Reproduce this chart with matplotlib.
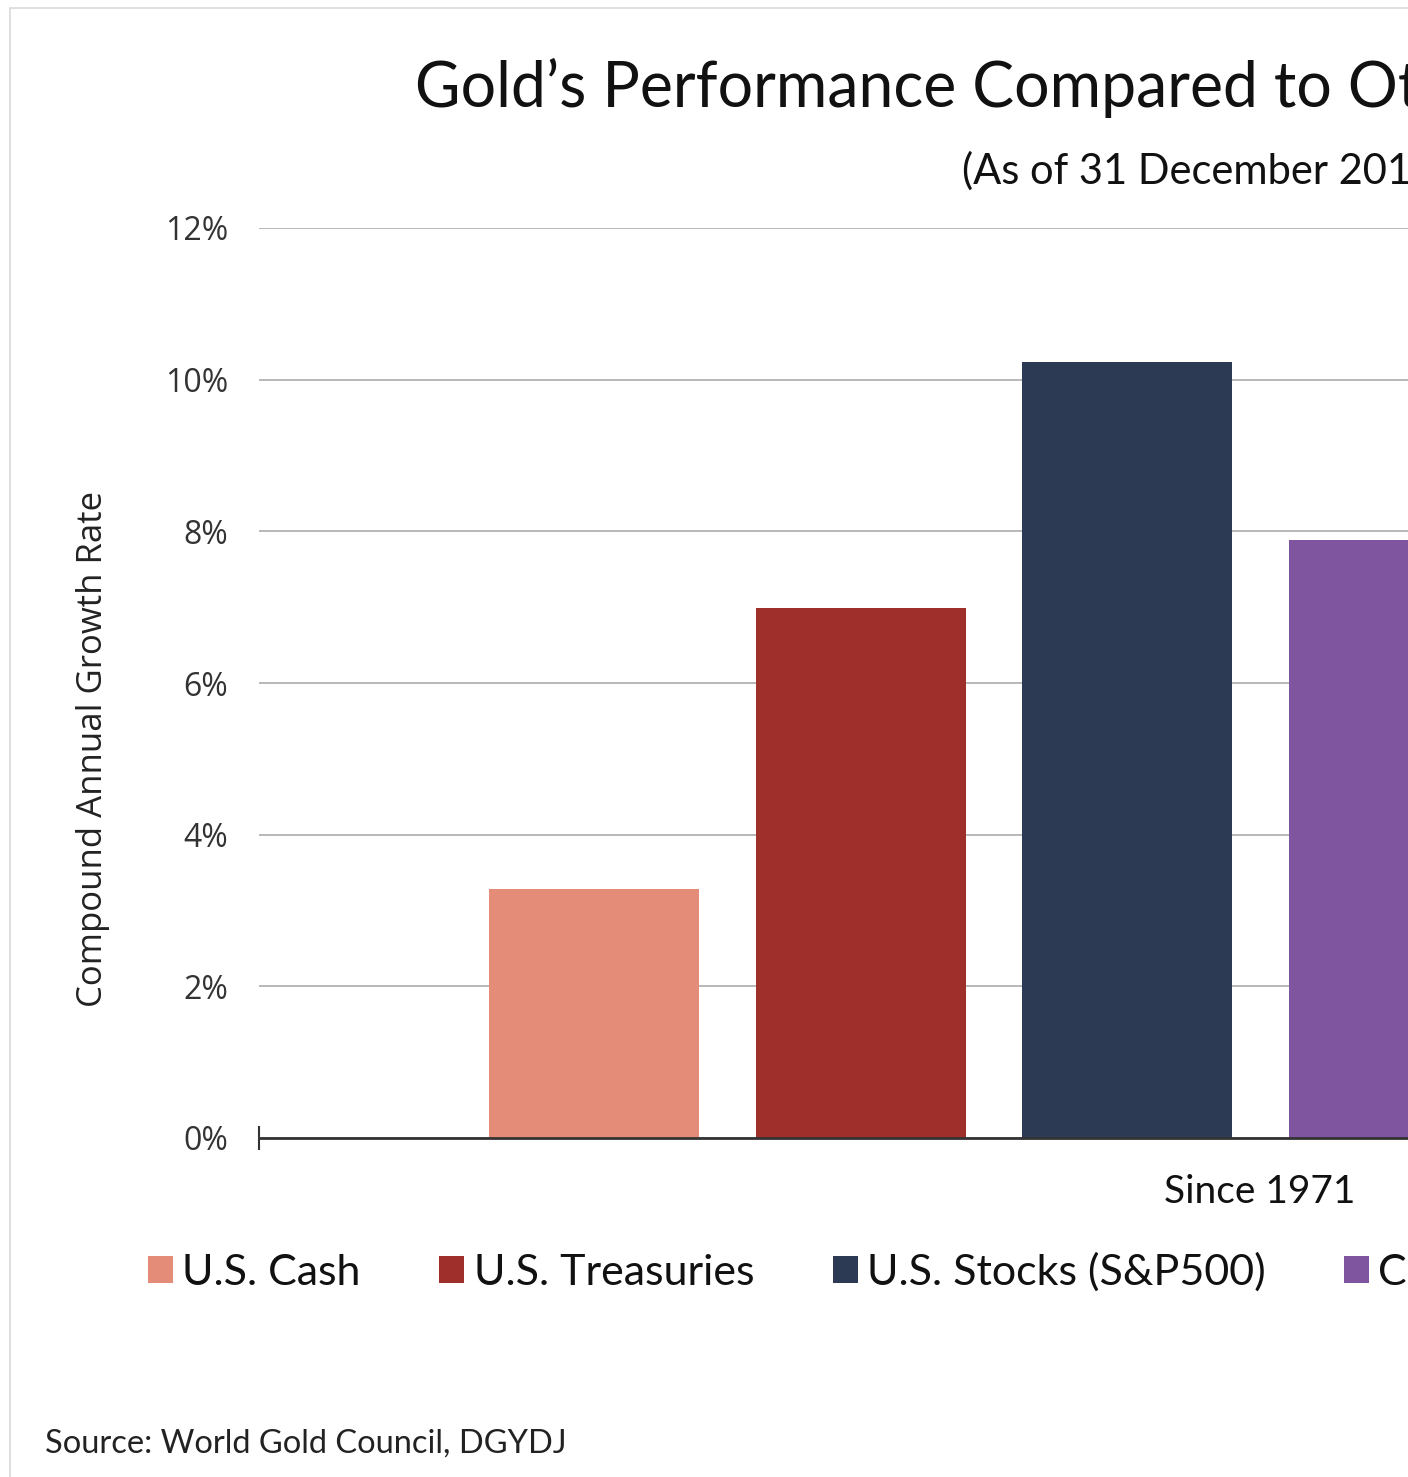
import matplotlib
matplotlib.use("Agg")
import matplotlib.pyplot as plt
from matplotlib.patches import Rectangle, Patch
from matplotlib.ticker import FuncFormatter

categories = ["U.S. Cash", "U.S. Treasuries", "U.S. Stocks (S&P500)", "Commodities"]
values = [3.28, 6.99, 10.23, 7.89]
colors = ["#E48C78", "#9E2F2B", "#2C3A53", "#7F55A0"]
yticks = [0, 2, 4, 6, 8, 10, 12]
group_label = "Since 1971"

W, H = 1408, 1477
fig = plt.figure(figsize=(W / 100, H / 100), dpi=100)
fig.patch.set_facecolor("white")

def fx(px):
    return px / W

def fy(py):
    return 1 - py / H

# frame border
fig.add_artist(Rectangle((fx(10), fy(2000)), fx(3000), fy(8) - fy(2000),
                         transform=fig.transFigure, fill=False,
                         edgecolor="#d9d9d9", linewidth=1.2))

left_px, right_px = 259, 2261
ax = fig.add_axes([fx(left_px), fy(1138), fx(right_px - left_px), fy(228) - fy(1138)])
spacing = 266.5
xl = -(594 - left_px) / spacing
xr = xl + (right_px - left_px) / spacing
x = list(range(len(values)))
bars = ax.bar(x, values, width=210 / spacing, color=colors, zorder=3)
ax.set_xlim(xl, xr)
ax.set_ylim(0, 12)
ax.set_yticks(yticks)
ax.yaxis.set_major_formatter(FuncFormatter(lambda v, p: f"{v:.0f}%"))
ax.grid(axis="y", color="#b8b8b8", linewidth=1.4, zorder=0)
ax.set_axisbelow(True)
for s in ["top", "right", "left"]:
    ax.spines[s].set_visible(False)
ax.spines["bottom"].set_color("#333333")
ax.spines["bottom"].set_linewidth(2)
ax.spines["bottom"].set_zorder(4)
ax.tick_params(axis="y", length=0, pad=22, labelsize=23, labelcolor="#333333")
for lab in ax.get_yticklabels():
    lab.set_fontfamily("Open Sans")
ax.set_xticks([xl])
ax.set_xticklabels([""])
ax.tick_params(axis="x", direction="inout", length=17, width=1.5, color="#333333")
ax.set_ylabel("Compound Annual Growth Rate", fontsize=25, family="Open Sans",
              color="#222222")
ax.yaxis.set_label_coords((93 - left_px) / (right_px - left_px),
                          (1138 - 748.5) / (1138 - 228))
ax.yaxis.label.set_va("center")

fig.text(fx(415), fy(88), "Gold\u2019s Performance Compared to Other Assets",
         fontsize=45, family="Lato", ha="left", va="center", color="#111111")
fig.text(fx(962), fy(171), "(As of 31 December 2019)",
         fontsize=30, family="Lato", ha="left", va="center", color="#111111")
fig.text(fx(1260), fy(1192), group_label, fontsize=28, family="Lato",
         ha="center", va="center", color="#111111")

handles = [Patch(facecolor=c, edgecolor="none") for c in colors]
leg = fig.legend(handles, categories, loc="center left",
                 bbox_to_anchor=(fx(148), fy(1272)), ncol=len(categories),
                 frameon=False, prop={"family": "Lato", "size": 31},
                 handlelength=0.58, handleheight=0.58, handletextpad=0.22,
                 columnspacing=1.82, borderaxespad=0, borderpad=0)
for t in leg.get_texts():
    t.set_color("#111111")

fig.text(fx(45), fy(1444), "Source: World Gold Council, DGYDJ", fontsize=23.5,
         family="Lato", ha="left", va="center", color="#222222")

fig.savefig("out.png", dpi=100)
